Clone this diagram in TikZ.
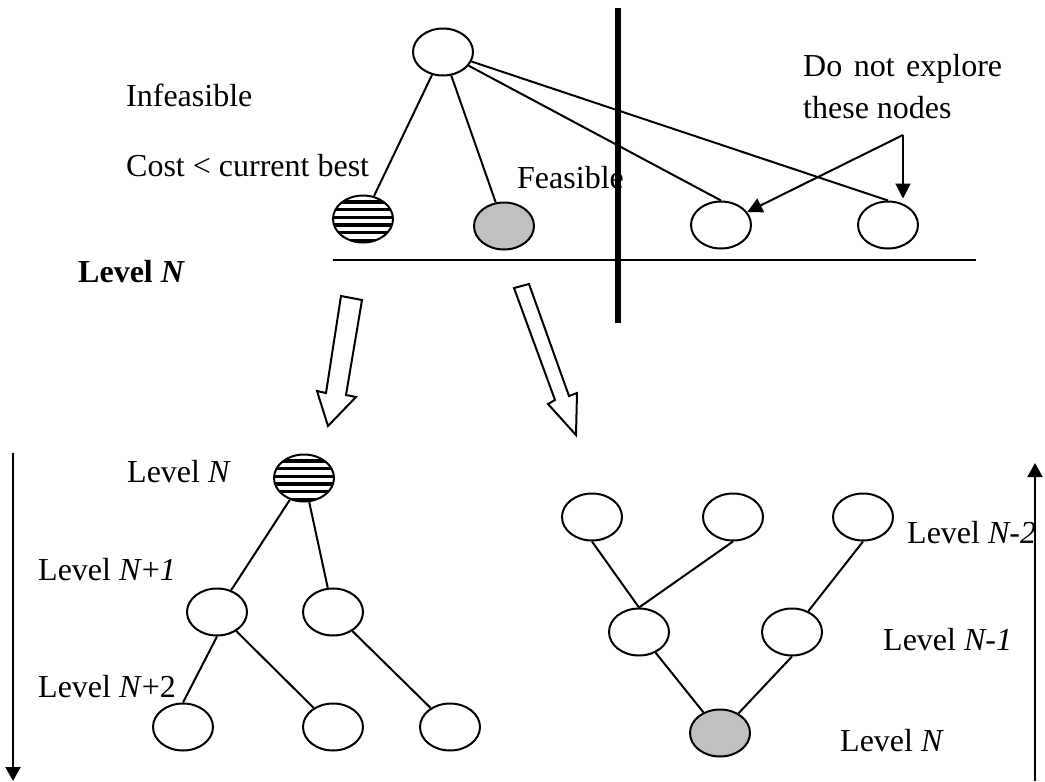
\documentclass[tikz,border=0pt]{standalone}
\usepackage{fontspec}
\setmainfont{Liberation Serif}
\usetikzlibrary{shapes.geometric,arrows.meta,calc}
\definecolor{nodegray}{RGB}{192,192,192}
\begin{document}
\begin{tikzpicture}[x=1pt,y=-1pt,
  every node/.style={font=\fontsize{32}{38}\selectfont},
  tnode/.style={ellipse,draw,line width=2pt,minimum width=60pt,minimum height=47pt,inner sep=0pt},
  feasible/.style={tnode,fill=nodegray},
  striped/.style={tnode,path picture={
      \foreach \k in {-3,...,3}{
        \draw[line width=3.2pt]
          ($(path picture bounding box.center)+(-40pt,{\k*7.7pt+1.7pt})$) -- ++(80pt,0pt);}}},
  edge/.style={line width=2pt},
  label/.style={anchor=base west,inner sep=0pt},
  hollow/.style={draw,line width=2pt,fill=white,line join=miter},
  pointer/.style={line width=2pt,-{Triangle[length=15pt,width=15pt]}},
  axis/.style={line width=2pt,-{Triangle[length=14pt,width=15pt]}}]
\useasboundingbox (0,0) rectangle (1045,782);

% ---- top search tree at level N ----
\node[tnode]    (root) at (443,52)  {};
\node[striped]  (inf)  at (363,219) {};
\node[feasible] (fea)  at (504,226) {};
\node[tnode]    (r1)   at (721,225) {};
\node[tnode]    (r2)   at (888,225) {};

\draw[edge] (root) -- (inf);
\draw[edge] (root) -- (fea);
\draw[edge] (root) -- (r1.north);
\draw[edge] (root) -- (r2.north);

% level line and pruning bar
\coordinate (lvlL) at (333,260);
\coordinate (lvlR) at (976,260);
\draw[edge] (lvlL) -- (lvlR);
\coordinate (barT) at (618,8);
\coordinate (barB) at (618,323);
\draw[line width=6pt] (barT) -- (barB);

% annotation arrows
\coordinate (br) at (903,135);
\draw[pointer] (br) -- (r1);
\draw[pointer,shorten >=2pt] (br) -- (br |- r2.north);

\node[label] (tInf)  at (126,106) {Infeasible};
\node[label] (tCost) at (126,176) {Cost < current best};
\node[label] (tFea)  at (517,188) {Feasible};
\node[label] (tDo)   at (803,76)  {Do\hspace{11.5pt}not\hspace{11.5pt}explore};
\node[label] (tThe)  at (803,118) {these nodes};
\node[label] (tLvl)  at (78,282)  {\textbf{Level \textit{N}}};

% ---- hollow block arrows ----
\draw[hollow] (341,296) -- (362,300) -- (346,395) -- (356,397) -- (328,426)
  -- (317,391) -- (326,393) -- cycle;
\draw[hollow] (514,288) -- (529,284) -- (569,396) -- (577,393) -- (576,435)
  -- (548,404) -- (555,400) -- cycle;

% ---- depth-first expansion of the infeasible node ----
\node[striped] (a0)  at (304,478) {};
\node[tnode]   (a1)  at (217,612) {};
\node[tnode]   (a2)  at (333,612) {};
\node[tnode]   (a3)  at (183,727) {};
\node[tnode]   (a4)  at (333,727) {};
\node[tnode]   (a5)  at (450,727) {};
\draw[edge] (a0) -- (a1);
\draw[edge] (a0) -- (a2);
\draw[edge] (a1.south) -- (a3.north);
\draw[edge] (a1) -- (a4);
\draw[edge] (a2) -- (a5);

\coordinate (downT) at (13,453);
\coordinate (downB) at (13,781);
\draw[axis] (downT) -- (downB);

\node[label] (tA0) at (127,482) {Level \textit{N}};
\node[label] (tA1) at (38,580)  {Level \textit{N}+\textit{1}};
\node[label] (tA2) at (38,697)  {Level \textit{N}+2};

% ---- backward tracing of the feasible node ----
\node[tnode]    (b1) at (592,517) {};
\node[tnode]    (b2) at (733,517) {};
\node[tnode]    (b3) at (863,517) {};
\node[tnode]    (b4) at (639,632) {};
\node[tnode]    (b5) at (792,632) {};
\node[feasible] (b6) at (720,733) {};
\draw[edge] (b1.south) -- (b4.north);
\draw[edge] (b2.south) -- (b4.north);
\draw[edge] (b3.south) -- (b5);
\draw[edge] (b4) -- (b6);
\draw[edge] (b5.south) -- (b6);

\coordinate (upB) at (1035,781);
\coordinate (upT) at (1035,463);
\draw[axis] (upB) -- (upT);

\node[label] (tB1) at (907,543) {Level \textit{N-2}};
\node[label] (tB2) at (883,650) {Level \textit{N-1}};
\node[label] (tB3) at (840,751) {Level \textit{N}};
\end{tikzpicture}
\end{document}
